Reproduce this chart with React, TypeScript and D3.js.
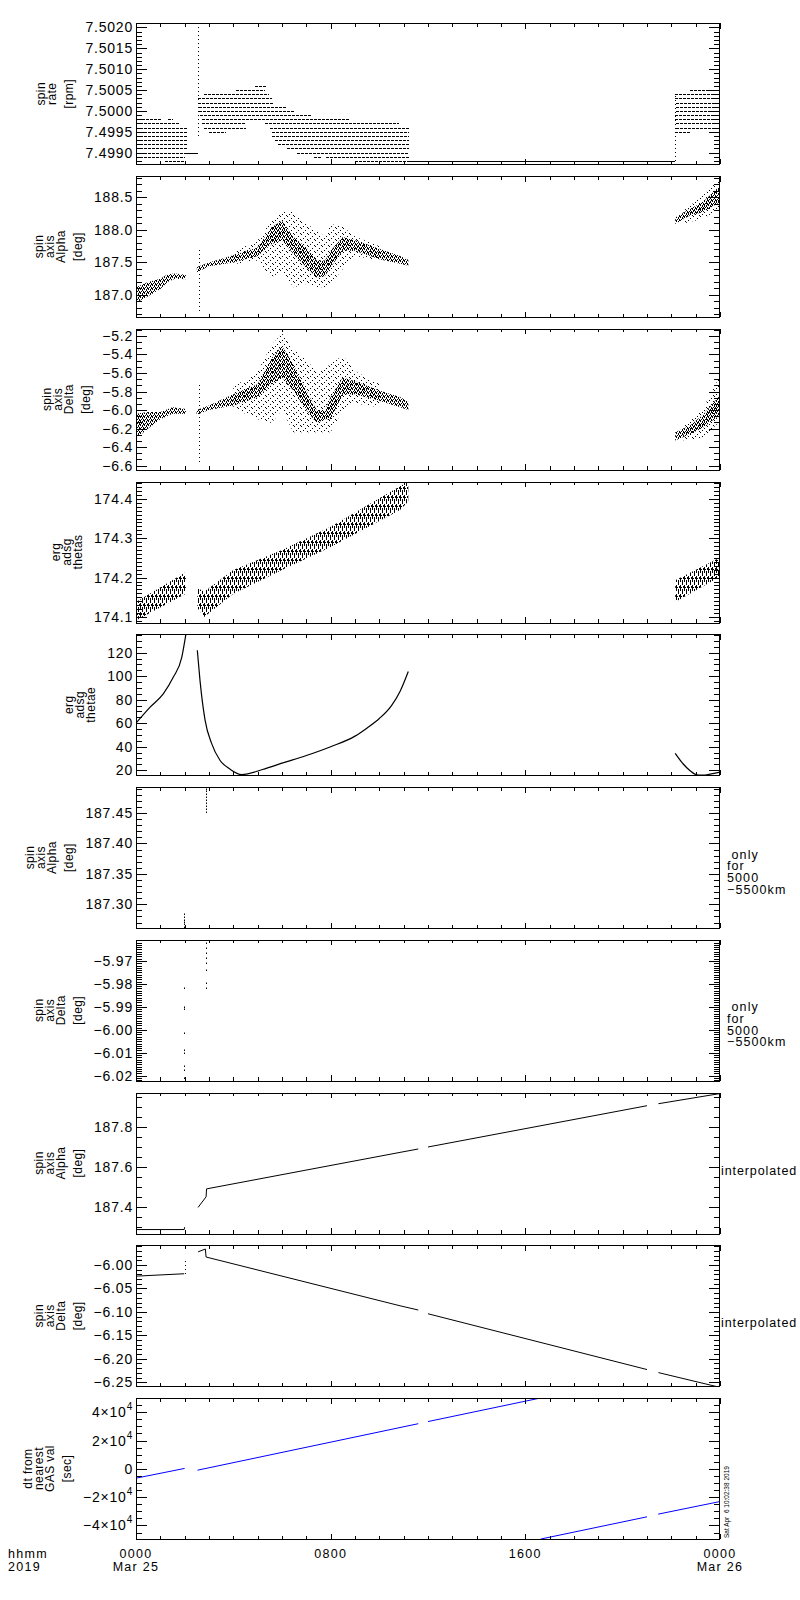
import React, { useEffect, useRef } from "react";
import * as d3 from "d3";

type Run = [number, number, number]; // hour from, hour to, value  (or hour, low, high)
type Pt = [number, number]; // hour, value

// ---- time axis: hours after 0000 UT on Mar 25 2019 ----
const hourTicks = [0, 8, 16, 24];
const hourLabels = ["0000", "0800", "1600", "0000"];
const dayLabels = ["Mar 25", "", "", "Mar 26"];

// ---- 1: spin rate ----
const spinRateTitle = ["spin", "rate", "[rpm]"];
const spinRateRange = [7.49872, 7.5021];
const spinRateTicks = [7.499, 7.4995, 7.5, 7.5005, 7.501, 7.5015, 7.502];
const spinRateRuns: Run[] = [
  [0.1, 1.05, 7.4998], [1.3, 1.5, 7.4998], [0, 1.8, 7.4997], [0, 2.08, 7.4996],
  [0, 2.08, 7.4995], [0, 2.08, 7.4994], [0, 2.08, 7.4993], [0, 2.08, 7.4992],
  [0, 2.08, 7.4991], [0, 2.0, 7.499], [0, 2.0, 7.4989], [1.2, 2.0, 7.4988],
  [4.9, 5.4, 7.5006], [4.1, 5.3, 7.5005], [2.8, 5.45, 7.5004], [2.56, 5.6, 7.5003],
  [2.56, 5.66, 7.5002], [2.6, 6.2, 7.5001], [2.6, 6.5, 7.5], [2.65, 7.2, 7.4999],
  [2.7, 8.8, 7.4998], [2.7, 4.5, 7.4997], [5.3, 10.8, 7.4997], [2.8, 4.5, 7.4996],
  [5.5, 11.2, 7.4996], [3.0, 3.7, 7.4995], [5.6, 11.2, 7.4995], [5.6, 11.2, 7.4994],
  [5.7, 11.2, 7.4993], [5.85, 11.2, 7.4992], [6.2, 11.2, 7.4991], [6.6, 11.2, 7.499],
  [7.3, 7.6, 7.4989], [7.8, 11.2, 7.4989], [9.0, 11.2, 7.4988],
  [22.76, 24, 7.5005], [22.16, 24, 7.5004], [22.16, 24, 7.5003], [22.2, 24, 7.5002],
  [22.2, 24, 7.5001], [22.2, 24, 7.5], [22.16, 24, 7.4999], [22.16, 24, 7.4998],
  [22.2, 24, 7.4997], [22.2, 24, 7.4996], [22.16, 22.8, 7.4995],
];
const spinRateFlat: Run[] = [[2.0, 2.55, 7.499], [11.2, 22.15, 7.4988]];
const spinRateJumps: Run[] = [[2.56, 7.4994, 7.502], [22.16, 7.4988, 7.5004]];

// ---- 2: spin axis alpha (scatter: dense core and sparse spread) ----
const alphaTitle = ["spin", "axis", "Alpha", "[deg]"];
const alphaRange = [186.66, 188.828];
const alphaTicks = [187.0, 187.5, 188.0, 188.5];
const alphaCore: Run[][] = [
  [[0, 186.88, 187.12], [0.5, 186.98, 187.2], [1, 187.09, 187.25], [1.3, 187.2, 187.32], [1.6, 187.25, 187.33], [2.05, 187.24, 187.31]],
  [[2.5, 187.35, 187.43], [3, 187.44, 187.5], [4, 187.5, 187.61], [5, 187.6, 187.73], [5.57, 187.78, 188.04], [6, 187.84, 188.14],
   [6.47, 187.63, 187.89], [7, 187.43, 187.73], [7.42, 187.27, 187.53], [7.77, 187.29, 187.53], [8, 187.43, 187.68],
   [8.5, 187.68, 187.89], [9, 187.68, 187.84], [10, 187.55, 187.71], [10.85, 187.48, 187.6], [11.19, 187.45, 187.54]],
  [[22.16, 188.09, 188.19], [22.76, 188.22, 188.32], [23.3, 188.27, 188.43], [24, 188.43, 188.68]],
];
const alphaSpread: Run[][] = [
  [[4, 187.47, 187.66], [5, 187.53, 187.84], [5.57, 187.27, 188.14], [6, 187.37, 188.3], [6.47, 187.12, 188.27], [7, 187.17, 188.09],
   [7.42, 187.12, 188.0], [7.77, 187.12, 187.89], [8, 187.17, 188.09], [8.5, 187.4, 188.05], [9, 187.6, 187.9], [10, 187.53, 187.75]],
  [[22.5, 188.1, 188.3], [23.3, 188.17, 188.53], [24, 188.32, 188.79]],
];
const alphaJumps: Run[] = [[2.6, 186.76, 187.7]];

// ---- 3: spin axis delta ----
const deltaTitle = ["spin", "axis", "Delta", "[deg]"];
const deltaRange = [-6.645, -5.123];
const deltaTicks = [-6.6, -6.4, -6.2, -6.0, -5.8, -5.6, -5.4, -5.2];
const deltaCore: Run[][] = [
  [[0, -6.31, -6.04], [0.5, -6.2, -6.02], [1, -6.1, -6.02], [1.5, -6.04, -5.97], [2.05, -6.04, -5.99]],
  [[2.49, -6.05, -6.0], [3, -6.0, -5.95], [4, -5.95, -5.83], [5, -5.86, -5.72], [5.57, -5.72, -5.44], [6, -5.65, -5.31],
   [6.47, -5.79, -5.51], [7, -6.0, -5.79], [7.42, -6.14, -6.0], [7.77, -6.1, -6.0], [8, -6.1, -5.86], [8.5, -5.83, -5.65],
   [9, -5.83, -5.69], [10, -5.9, -5.79], [10.85, -5.97, -5.86], [11.19, -6.0, -5.91]],
  [[22.16, -6.33, -6.24], [22.76, -6.26, -6.17], [23.3, -6.19, -6.05], [24, -6.05, -5.84]],
];
const deltaSpread: Run[][] = [
  [[4, -5.98, -5.75], [5, -6.1, -5.58], [5.57, -6.14, -5.3], [6, -6.0, -5.17], [6.47, -6.24, -5.34], [7, -6.24, -5.45],
   [7.42, -6.24, -5.6], [7.77, -6.24, -5.55], [8, -6.24, -5.5], [8.5, -6.0, -5.41], [9, -5.93, -5.58], [10, -5.97, -5.72]],
  [[22.5, -6.33, -6.15], [23.3, -6.3, -5.98], [24, -6.12, -5.63]],
];
const deltaJumps: Run[] = [[2.6, -6.56, -5.7]];

// ---- 4: erg adsg thetas ----
const thetasTitle = ["erg", "adsg", "thetas"];
const thetasRange = [174.0857, 174.444];
const thetasTicks = [174.1, 174.2, 174.3, 174.4];
const thetasBand: Run[][] = [
  [[0, 174.091, 174.138], [2.05, 174.159, 174.214]],
  [[2.52, 174.123, 174.174], [2.8, 174.1, 174.164], [4, 174.159, 174.219], [6, 174.219, 174.27], [8, 174.278, 174.329],
   [10.85, 174.372, 174.432], [11.19, 174.393, 174.444]],
  [[22.16, 174.138, 174.193], [24, 174.202, 174.251]],
];

// ---- 5: erg adsg thetae ----
const thetaeTitle = ["erg", "adsg", "thetae"];
const thetaeRange = [15.7, 135.6];
const thetaeTicks = [20, 40, 60, 80, 100, 120];
const thetaeLine: Pt[][] = [
  [[0, 60], [0.58, 73.6], [1.12, 84.9], [1.53, 99], [1.88, 116], [2.05, 135.6]],
  [[2.52, 122], [2.63, 96.4], [2.84, 62.4], [3.11, 42.6], [3.45, 28.5], [3.86, 21], [4.34, 16.3], [5.2, 20.6], [6, 26],
   [7, 32.5], [8, 40], [9, 49], [9.5, 56], [10, 64], [10.5, 75], [10.85, 87], [11.19, 104]],
  [[22.16, 34.4], [22.49, 25.3], [22.77, 19.6], [23.04, 16.1], [23.3, 15.8], [23.59, 16.7], [24, 18.4]],
];

// ---- 6: alpha, only for 5000-5500 km ----
const alphaOnlyRange = [187.261, 187.4926];
const alphaOnlyTicks = [187.3, 187.35, 187.4, 187.45];
const alphaOnlyPts: Pt[] = [
  [1.99, 187.263], [1.99, 187.267], [1.99, 187.271], [1.99, 187.275], [1.99, 187.279], [1.99, 187.284],
  [2.86, 187.451], [2.86, 187.456], [2.86, 187.461], [2.86, 187.466], [2.86, 187.471], [2.86, 187.476],
  [2.86, 187.481], [2.86, 187.486], [2.87, 187.489],
];

// ---- 7: delta, only for 5000-5500 km ----
const deltaOnlyRange = [-6.0222, -5.9608];
const deltaOnlyTicks = [-6.02, -6.01, -6.0, -5.99, -5.98, -5.97];
const deltaOnlyPts: Pt[] = [
  [1.98, -5.9819], [1.98, -5.99], [1.98, -5.991], [1.98, -6.0016], [1.98, -6.0087], [1.98, -6.01],
  [1.98, -6.0157], [1.98, -6.0175], [1.98, -6.021], [2.87, -5.9624], [2.87, -5.9645], [2.87, -5.9665],
  [2.87, -5.9687], [2.87, -5.971], [2.87, -5.9739], [2.88, -5.9794], [2.88, -5.9818],
];

// ---- 8: alpha interpolated ----
const alphaInterpRange = [187.266, 187.973];
const alphaInterpTicks = [187.4, 187.6, 187.8];
const alphaInterp: Pt[][] = [
  [[0, 187.286], [1.98, 187.286], [2.0, 187.298]],
  [[2.55, 187.397], [2.88, 187.45], [2.9, 187.49], [10.85, 187.673], [11.6, 187.69]],
  [[12.0, 187.7], [21.0, 187.907]],
  [[21.47, 187.917], [24, 187.968]],
];

// ---- 9: delta interpolated ----
const deltaInterpRange = [-6.2587, -5.958];
const deltaInterpTicks = [-6.25, -6.2, -6.15, -6.1, -6.05, -6.0];
const deltaInterp: Pt[][] = [
  [[0, -6.0238], [1.98, -6.0187]],
  [[2.55, -5.972], [2.85, -5.966], [2.88, -5.983], [10.85, -6.087], [11.6, -6.096]],
  [[12.0, -6.104], [21.0, -6.223]],
  [[21.47, -6.2295], [24, -6.261]],
];
const deltaInterpJumps: Run[] = [[2.0, -6.019, -5.99]];

// ---- 10: dt from nearest GAS value [sec] ----
const dtTitle = ["dt from", "nearest", "GAS val", "[sec]"];
const dtRange = [-49600, 50000];
const dtTicks = [-40000, -20000, 0, 20000, 40000];
const dtLine: Pt[][] = [
  [[0, -6600], [2.0, 300]],
  [[2.53, -950], [11.6, 31880]],
  [[12.0, 33400], [16.53, 49700]],
  [[16.63, -49600], [21.0, -33900]],
  [[21.46, -32000], [24, -23100]],
];

const stamp = "Sat Apr  6 10:02:38 2019";
const onlyNote = [" only", "for", "5000", "\u22125500km"];
const interpNote = ["interpolated"];

const LEFT = 136;
const RIGHT = 720;
const TOP0 = 23.3;
const STEP = 152.75;
const PH = 141;
const FONT = "'Liberation Sans', Arial, sans-serif";

type Sel = d3.Selection<SVGGElement, unknown, null, undefined>;
type Sc = d3.ScaleLinear<number, number>;

const runs = (g: Sel, x: Sc, y: Sc, data: Run[], dash: string | null) => {
  g.selectAll(null).data(data).enter().append("line")
    .attr("x1", (d) => x(d[0])).attr("x2", (d) => x(d[1]))
    .attr("y1", (d) => Math.round(y(d[2])) + 0.5).attr("y2", (d) => Math.round(y(d[2])) + 0.5)
    .attr("stroke", "#000").attr("stroke-width", 1)
    .attr("stroke-dasharray", dash)
    .attr("shape-rendering", "crispEdges");
};
const jumps = (g: Sel, x: Sc, y: Sc, data: Run[]) => {
  g.selectAll(null).data(data).enter().append("line")
    .attr("x1", (d) => Math.round(x(d[0])) + 0.5).attr("x2", (d) => Math.round(x(d[0])) + 0.5)
    .attr("y1", (d) => y(d[1])).attr("y2", (d) => y(d[2]))
    .attr("stroke", "#000").attr("stroke-width", 1)
    .attr("stroke-dasharray", "1,3")
    .attr("shape-rendering", "crispEdges");
};
const bands = (g: Sel, x: Sc, y: Sc, data: Run[][], fill: string) => {
  const area = d3.area<Run>().x((d) => x(d[0])).y0((d) => y(d[1])).y1((d) => y(d[2]));
  g.selectAll(null).data(data).enter().append("path")
    .attr("d", (d) => area(d)).attr("fill", fill).attr("stroke", "none");
};
const lines = (g: Sel, x: Sc, y: Sc, data: Pt[][], color: string, w: number, curve: d3.CurveFactory) => {
  const line = d3.line<Pt>().x((d) => x(d[0])).y((d) => y(d[1])).curve(curve);
  g.selectAll(null).data(data).enter().append("path")
    .attr("d", (d) => line(d)).attr("fill", "none").attr("stroke", color).attr("stroke-width", w);
};
const dots = (g: Sel, x: Sc, y: Sc, data: Pt[]) => {
  g.selectAll(null).data(data).enter().append("rect")
    .attr("x", (d) => Math.round(x(d[0]))).attr("y", (d) => Math.round(y(d[1])) - 0.5)
    .attr("width", 1).attr("height", 1.5).attr("fill", "#000");
};

interface Panel {
  title: string[];
  range: number[];
  ticks: number[];
  minor: number;
  fmt: (v: number) => string;
  sci?: boolean;
  note?: string[];
  noteDy?: number;
  draw: (g: Sel, x: Sc, y: Sc) => void;
}

const panels: Panel[] = [
  {
    title: spinRateTitle, range: spinRateRange, ticks: spinRateTicks, minor: 0.0001, fmt: d3.format(".4f"),
    draw: (g, x, y) => {
      runs(g, x, y, spinRateRuns, "3,1");
      runs(g, x, y, spinRateFlat, null);
      jumps(g, x, y, spinRateJumps);
    },
  },
  {
    title: alphaTitle, range: alphaRange, ticks: alphaTicks, minor: 0.1, fmt: d3.format(".1f"),
    draw: (g, x, y) => {
      bands(g, x, y, alphaSpread, "url(#spread)");
      bands(g, x, y, alphaCore, "url(#core)");
      jumps(g, x, y, alphaJumps);
    },
  },
  {
    title: deltaTitle, range: deltaRange, ticks: deltaTicks, minor: 0.2 / 3, fmt: d3.format(".1f"),
    draw: (g, x, y) => {
      bands(g, x, y, deltaSpread, "url(#spread)");
      bands(g, x, y, deltaCore, "url(#core)");
      jumps(g, x, y, deltaJumps);
    },
  },
  {
    title: thetasTitle, range: thetasRange, ticks: thetasTicks, minor: 0.01, fmt: d3.format(".1f"),
    draw: (g, x, y) => bands(g, x, y, thetasBand, "url(#hatch)"),
  },
  {
    title: thetaeTitle, range: thetaeRange, ticks: thetaeTicks, minor: 5, fmt: d3.format("d"),
    draw: (g, x, y) => lines(g, x, y, thetaeLine, "#000", 1.2, d3.curveMonotoneX),
  },
  {
    title: alphaTitle, range: alphaOnlyRange, ticks: alphaOnlyTicks, minor: 0.01, fmt: d3.format(".2f"),
    note: onlyNote, noteDy: 1,
    draw: (g, x, y) => dots(g, x, y, alphaOnlyPts),
  },
  {
    title: deltaTitle, range: deltaOnlyRange, ticks: deltaOnlyTicks, minor: 0.001, fmt: d3.format(".2f"),
    note: onlyNote, noteDy: 1,
    draw: (g, x, y) => dots(g, x, y, deltaOnlyPts),
  },
  {
    title: alphaTitle, range: alphaInterpRange, ticks: alphaInterpTicks, minor: 0.05, fmt: d3.format(".1f"),
    note: interpNote, noteDy: 12,
    draw: (g, x, y) => lines(g, x, y, alphaInterp, "#000", 1, d3.curveLinear),
  },
  {
    title: deltaTitle, range: deltaInterpRange, ticks: deltaInterpTicks, minor: 0.01, fmt: d3.format(".2f"),
    note: interpNote, noteDy: 11,
    draw: (g, x, y) => {
      lines(g, x, y, deltaInterp, "#000", 1, d3.curveLinear);
      jumps(g, x, y, deltaInterpJumps);
    },
  },
  {
    title: dtTitle, range: dtRange, ticks: dtTicks, minor: 5000, fmt: (v) => String(v), sci: true,
    draw: (g, x, y) => lines(g, x, y, dtLine, "#0000ff", 1, d3.curveLinear),
  },
];

const App = () => {
  const ref = useRef<SVGSVGElement>(null);

  useEffect(() => {
    document.body.style.margin = "0";
    const svg = d3.select(ref.current);
    svg.selectAll("*").remove();
    const x = d3.scaleLinear().domain([0, 24]).range([LEFT, RIGHT]);

    const defs = svg.append("defs");
    const pattern = (id: string, w: number, h: number, cells: number[][]) => {
      const p = defs.append("pattern").attr("id", id).attr("patternUnits", "userSpaceOnUse")
        .attr("width", w).attr("height", h);
      cells.forEach((c) => p.append("rect").attr("x", c[0]).attr("y", c[1]).attr("width", c[2] || 1)
        .attr("height", c[3] || 1).attr("fill", "#000").attr("shape-rendering", "crispEdges"));
    };
    pattern("core", 4, 4, [[0, 0, 1, 2], [2, 1, 1, 2], [1, 3], [3, 3, 1, 1], [3, 0]]);
    pattern("spread", 7, 6, [[0, 0], [4, 2], [2, 4], [6, 5]]);
    pattern("hatch", 4, 9, [[0, 0, 1, 6], [2, 4, 1, 5], [1, 2], [3, 1, 1, 2]]);

    const root = svg.append("g").attr("font-family", FONT);

    panels.forEach((p, i) => {
      const top = TOP0 + i * STEP;
      const bottom = top + PH;
      const y = d3.scaleLinear().domain(p.range).range([bottom, top]);
      const g = root.append("g");

      const clipId = `clip${i}`;
      defs.append("clipPath").attr("id", clipId).append("rect")
        .attr("x", LEFT).attr("y", top).attr("width", RIGHT - LEFT).attr("height", PH);
      const marks = g.append("g").attr("clip-path", `url(#${clipId})`) as unknown as Sel;
      p.draw(marks, x, y);

      // frame
      g.append("rect").attr("x", LEFT + 0.5).attr("y", Math.round(top) + 0.5)
        .attr("width", RIGHT - LEFT - 1).attr("height", Math.round(PH))
        .attr("fill", "none").attr("stroke", "#000").attr("stroke-width", 1)
        .attr("shape-rendering", "crispEdges");

      const tk = g.append("g").attr("stroke", "#000").attr("stroke-width", 1).attr("shape-rendering", "crispEdges");
      // hour ticks, top and bottom
      d3.range(0, 25).forEach((h) => {
        const len = h % 8 === 0 ? 5.5 : 3.5;
        const xx = Math.round(x(h)) + 0.5;
        tk.append("line").attr("x1", xx).attr("x2", xx).attr("y1", bottom).attr("y2", bottom - len);
        tk.append("line").attr("x1", xx).attr("x2", xx).attr("y1", top).attr("y2", top + len);
      });
      // value ticks, left and right
      const [d0, d1] = p.range;
      const base = p.ticks[0];
      const k0 = Math.ceil((d0 - base) / p.minor - 1e-6);
      const k1 = Math.floor((d1 - base) / p.minor + 1e-6);
      const minors = d3.range(k0, k1 + 1).map((k) => base + k * p.minor)
        .filter((v) => !p.ticks.some((m) => Math.abs(m - v) < p.minor * 0.01));
      const yTick = (v: number, len: number) => {
        const yy = Math.round(y(v)) + 0.5;
        tk.append("line").attr("x1", LEFT).attr("x2", LEFT + len).attr("y1", yy).attr("y2", yy);
        tk.append("line").attr("x1", RIGHT).attr("x2", RIGHT - len).attr("y1", yy).attr("y2", yy);
      };
      minors.forEach((v) => yTick(v, 6));
      p.ticks.forEach((v) => yTick(v, 11));

      // tick labels
      const lab = g.append("g").attr("font-size", 14).attr("letter-spacing", 0.8).attr("fill", "#000");
      p.ticks.forEach((v) => {
        const t = lab.append("text").attr("x", LEFT - 3).attr("y", y(v) + 5).attr("text-anchor", "end");
        if (p.sci && v !== 0) {
          const m = v / 10000;
          t.append("tspan").text(`${m < 0 ? "\u2212" : ""}${Math.abs(m)}\u00d710`);
          t.append("tspan").attr("dy", -7).attr("font-size", 10).text("4");
        } else {
          t.text(p.fmt(v));
        }
      });
      const labelLeft = (lab.node() as SVGGElement).getBBox().x;

      // y title: stacked rotated lines
      const n = p.title.length;
      const pos: number[] = new Array(n);
      pos[n - 1] = labelLeft - 12;
      for (let j = n - 2; j >= 0; j--) {
        pos[j] = pos[j + 1] - (p.title[j + 1].startsWith("[") ? 17 : 11);
      }
      const cy = (top + bottom) / 2;
      p.title.forEach((s, j) => {
        g.append("text").attr("transform", `translate(${pos[j]},${cy}) rotate(-90)`)
          .attr("text-anchor", "middle").attr("font-size", 12).attr("letter-spacing", 0.4).text(s);
      });

      // note to the right of the panel
      if (p.note) {
        p.note.forEach((s, j) => {
          g.append("text").attr("x", p.note!.length > 1 ? 727 : 721).attr("y", cy + (p.noteDy || 0) + j * 11.7)
            .attr("font-size", 12.5).attr("letter-spacing", p.note!.length > 1 ? 1.1 : 0.9)
            .style("white-space", "pre").text(s);
        });
      }
    });

    // bottom time labels
    const lastBottom = TOP0 + (panels.length - 1) * STEP + PH;
    const bl = root.append("g").attr("font-size", 12.5).attr("letter-spacing", 1.3);
    hourTicks.forEach((h, j) => {
      bl.append("text").attr("x", x(h)).attr("y", lastBottom + 18.5).attr("text-anchor", "middle").text(hourLabels[j]);
      if (dayLabels[j]) {
        bl.append("text").attr("x", x(h)).attr("y", lastBottom + 31.5).attr("text-anchor", "middle").text(dayLabels[j]);
      }
    });
    bl.append("text").attr("x", 8).attr("y", lastBottom + 18.5).text("hhmm");
    bl.append("text").attr("x", 8).attr("y", lastBottom + 31.5).text("2019");

    root.append("text").attr("transform", `translate(729,${lastBottom - 1}) rotate(-90)`)
      .attr("font-size", 6.5).style("white-space", "pre").text(stamp);
  }, []);

  return <svg ref={ref} width={800} height={1600} style={{ display: "block", background: "#fff" }} />;
};

export default App;
